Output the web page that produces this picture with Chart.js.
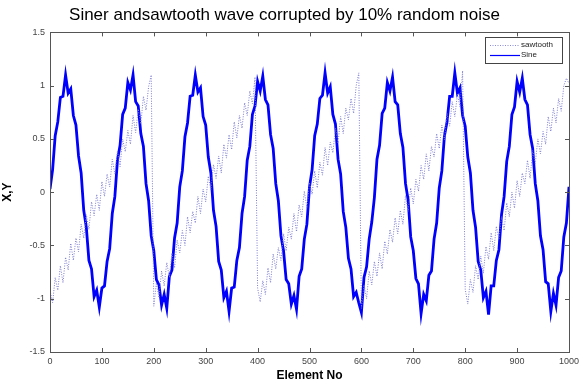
<!DOCTYPE html>
<html lang="en">
<head>
<meta charset="UTF-8">
<title>Sine and sawtooth</title>
<style>
  html, body { margin: 0; padding: 0; background: #fff; }
  .wrap { width: 585px; height: 383px; position: relative; }
</style>
<script src="https://cdn.jsdelivr.net/npm/chart.js"></script>
</head>
<body>
<div class="wrap"><canvas id="waveChart" width="585" height="383"></canvas></div>
<script>
// samples taken every 5 elements (noise shows as a zigzag band)
const sampleStep = 5;

const sineValues = [
  0.03, 0.21, 0.53, 0.66, 0.89, 0.90, 1.10, 0.93, 0.97, 0.72, 0.63, 0.34, 0.18, -0.17, -0.33, -0.64, -0.72, -0.98, -0.92, -1.08, -0.90, -0.88, -0.65, -0.53, -0.20,
  -0.04, 0.30, 0.44, 0.73, 0.79, 1.03, 0.96, 1.10, 0.85, 0.81, 0.55, 0.43, 0.08, -0.08, -0.41, -0.55, -0.82, -0.87, -1.06, -0.96, -1.09, -0.79, -0.73, -0.43, -0.29,
  0.05, 0.20, 0.52, 0.65, 0.90, 0.91, 1.10, 0.94, 0.98, 0.71, 0.63, 0.33, 0.18, -0.17, -0.32, -0.65, -0.73, -0.99, -0.93, -1.12, -0.90, -0.89, -0.64, -0.52, -0.20,
  -0.04, 0.30, 0.43, 0.73, 0.81, 1.04, 0.95, 1.09, 0.87, 0.82, 0.54, 0.41, 0.08, -0.08, -0.41, -0.55, -0.82, -0.86, -1.05, -0.97, -1.10, -0.79, -0.72, -0.44, -0.30,
  0.05, 0.21, 0.53, 0.64, 0.88, 0.91, 1.12, 0.93, 0.99, 0.73, 0.64, 0.31, 0.17, -0.18, -0.33, -0.62, -0.72, -0.98, -0.94, -1.04, -1.13, -0.80, -0.70, -0.44, -0.28,
  -0.05, 0.31, 0.44, 0.74, 0.79, 1.03, 0.95, 1.08, 0.85, 0.82, 0.55, 0.42, 0.08, -0.07, -0.42, -0.55, -0.81, -0.86, -1.14, -0.96, -1.02, -0.78, -0.74, -0.44, -0.29,
  0.04, 0.20, 0.53, 0.66, 0.90, 0.90, 1.12, 0.93, 0.98, 0.72, 0.62, 0.33, 0.18, -0.17, -0.33, -0.65, -0.73, -0.99, -0.93, -1.15, -0.88, -0.88, -0.64, -0.54, -0.21,
  -0.04, 0.29, 0.43, 0.73, 0.80, 1.04, 0.94, 1.07, 0.87, 0.82, 0.54, 0.41, 0.08, -0.08, -0.41, -0.54, -0.84, -0.86, -1.12, -0.95, -1.06, -0.80, -0.74, -0.42, -0.29,
  0.05
];

const sawtoothValues = [
  -0.92, -1.04, -0.80, -0.92, -0.69, -0.85, -0.61, -0.73, -0.48, -0.64, -0.43, -0.56, -0.30, -0.43, -0.21, -0.35, -0.09, -0.22, -0.02, -0.17,
  0.10, -0.04, 0.17, 0.05, 0.31, 0.17, 0.39, 0.24, 0.50, 0.38, 0.58, 0.45, 0.72, 0.56, 0.78, 0.64, 0.90, 0.77, 0.99, 1.10,
  -1.07, -0.85, -0.99, -0.74, -0.88, -0.66, -0.80, -0.57, -0.71, -0.45, -0.57, -0.36, -0.50, -0.23, -0.38, -0.18, -0.29, -0.04, -0.20, 0.03,
  -0.09, 0.15, 0.02, 0.26, 0.13, 0.34, 0.18, 0.45, 0.32, 0.54, 0.40, 0.66, 0.51, 0.72, 0.60, 0.84, 0.72, 0.95, 0.83, 1.08,
  -0.90, -1.03, -0.83, -0.96, -0.71, -0.85, -0.58, -0.72, -0.52, -0.64, -0.39, -0.55, -0.33, -0.44, -0.20, -0.37, -0.12, -0.23, 0.01, -0.15,
  0.09, -0.02, 0.20, 0.04, 0.28, 0.16, 0.42, 0.25, 0.47, 0.37, 0.60, 0.46, 0.71, 0.55, 0.79, 0.68, 0.88, 0.74, 1.00, 1.12,
  -1.09, -0.87, -1.00, -0.74, -0.87, -0.65, -0.79, -0.57, -0.72, -0.46, -0.58, -0.35, -0.47, -0.24, -0.39, -0.17, -0.30, -0.03, -0.18, 0.04,
  -0.11, 0.12, 0.01, 0.25, 0.12, 0.36, 0.20, 0.43, 0.33, 0.55, 0.41, 0.63, 0.49, 0.74, 0.62, 0.85, 0.71, 0.92, 0.80, 1.14,
  -0.91, -1.05, -0.82, -0.94, -0.69, -0.82, -0.60, -0.76, -0.51, -0.63, -0.38, -0.55, -0.32, -0.44, -0.23, -0.36, -0.10, -0.23, 0.00, -0.15,
  0.11, -0.04, 0.18, 0.08, 0.30, 0.13, 0.39, 0.27, 0.50, 0.36, 0.57, 0.45, 0.71, 0.57, 0.79, 0.65, 0.88, 0.76, 1.00, 1.07,
  1.02
];

const xTicks = [0, 100, 200, 300, 400, 500, 600, 700, 800, 900, 1000];
const yTicks = [-1.5, -1, -0.5, 0, 0.5, 1, 1.5];
const seriesNames = ['sawtooth', 'Sine'];

function toPoints(values) {
  return values.map((v, i) => ({ x: i * sampleStep, y: v }));
}

const fontFamily = '"Liberation Sans", Arial, sans-serif';

// matlab style box with inward ticks + legend in the corner
const boxPlugin = {
  id: 'boxPlugin',
  afterDraw(chart) {
    const ctx = chart.ctx;
    const a = chart.chartArea;
    const xs = chart.scales.x, ys = chart.scales.y;
    ctx.save();
    ctx.strokeStyle = '#555';
    ctx.lineWidth = 1;
    ctx.strokeRect(Math.round(a.left) + 0.5, Math.round(a.top) + 0.5, Math.round(a.right - a.left), Math.round(a.bottom - a.top));
    ctx.beginPath();
    xTicks.forEach(t => {
      const px = Math.round(xs.getPixelForValue(t)) + 0.5;
      ctx.moveTo(px, a.bottom); ctx.lineTo(px, a.bottom - 4);
      ctx.moveTo(px, a.top); ctx.lineTo(px, a.top + 4);
    });
    yTicks.forEach(t => {
      const py = Math.round(ys.getPixelForValue(t)) + 0.5;
      ctx.moveTo(a.left, py); ctx.lineTo(a.left + 4, py);
      ctx.moveTo(a.right, py); ctx.lineTo(a.right - 4, py);
    });
    ctx.stroke();

    // legend
    const lx = 485, ly = 37, lw = 77, lh = 26;
    ctx.fillStyle = '#fff';
    ctx.fillRect(lx, ly, lw, lh);
    ctx.strokeStyle = '#444';
    ctx.strokeRect(lx + 0.5, ly + 0.5, lw, lh);
    ctx.font = '8px ' + fontFamily;
    ctx.textBaseline = 'middle';
    ctx.fillStyle = '#222';
    ctx.fillText(seriesNames[0], lx + 36, ly + 8);
    ctx.fillText(seriesNames[1], lx + 36, ly + 18);
    ctx.beginPath();
    ctx.setLineDash([1, 1.5]);
    ctx.strokeStyle = '#8a8ad8';
    ctx.moveTo(lx + 5, ly + 8.5); ctx.lineTo(lx + 35, ly + 8.5);
    ctx.stroke();
    ctx.setLineDash([]);
    ctx.beginPath();
    ctx.strokeStyle = '#0000ff';
    ctx.lineWidth = 1.2;
    ctx.moveTo(lx + 5, ly + 18.5); ctx.lineTo(lx + 35, ly + 18.5);
    ctx.stroke();
    ctx.restore();
  }
};

const chart = new Chart(document.getElementById('waveChart').getContext('2d'), {
  type: 'line',
  data: {
    datasets: [
      {
        label: seriesNames[0],
        data: toPoints(sawtoothValues),
        borderColor: '#7c7cd0',
        borderWidth: 1,
        borderDash: [1, 1.5],
        pointRadius: 0,
        tension: 0
      },
      {
        label: seriesNames[1],
        data: toPoints(sineValues),
        borderColor: '#0000ff',
        borderWidth: 2.8,
        pointRadius: 0,
        tension: 0
      }
    ]
  },
  options: {
    responsive: false,
    animation: false,
    layout: { padding: { left: 0, right: 16, top: 0, bottom: 0 } },
    plugins: {
      legend: { display: false },
      tooltip: { enabled: false },
      title: {
        display: true,
        text: 'Siner andsawtooth wave corrupted by 10% random noise',
        color: '#000',
        font: { family: fontFamily, size: 17, weight: 'normal' },
        padding: { top: 5, bottom: 7 }
      }
    },
    scales: {
      x: {
        type: 'linear',
        min: 0, max: 1000,
        afterBuildTicks: s => { s.ticks = xTicks.map(v => ({ value: v })); },
        afterFit: s => { s.height = 31; },
        grid: { display: false, drawTicks: false },
        border: { display: false },
        ticks: {
          color: '#444', padding: 4, maxRotation: 0,
          font: { family: fontFamily, size: 9 },
          callback: v => String(v)
        },
        title: {
          display: true, text: 'Element No', color: '#000',
          font: { family: fontFamily, size: 12, weight: 'bold' },
          padding: { top: 0, bottom: 0 }
        }
      },
      y: {
        min: -1.5, max: 1.5,
        afterBuildTicks: s => { s.ticks = yTicks.map(v => ({ value: v })); },
        afterFit: s => { s.width = 50; },
        grid: { display: false, drawTicks: false },
        border: { display: false },
        ticks: {
          color: '#444', padding: 5,
          font: { family: fontFamily, size: 9 },
          callback: v => String(v)
        },
        title: {
          display: true, text: 'X,Y', color: '#000',
          font: { family: fontFamily, size: 12, weight: 'bold' },
          padding: { top: 0, bottom: 6 }
        }
      }
    }
  },
  plugins: [boxPlugin]
});
</script>
</body>
</html>
